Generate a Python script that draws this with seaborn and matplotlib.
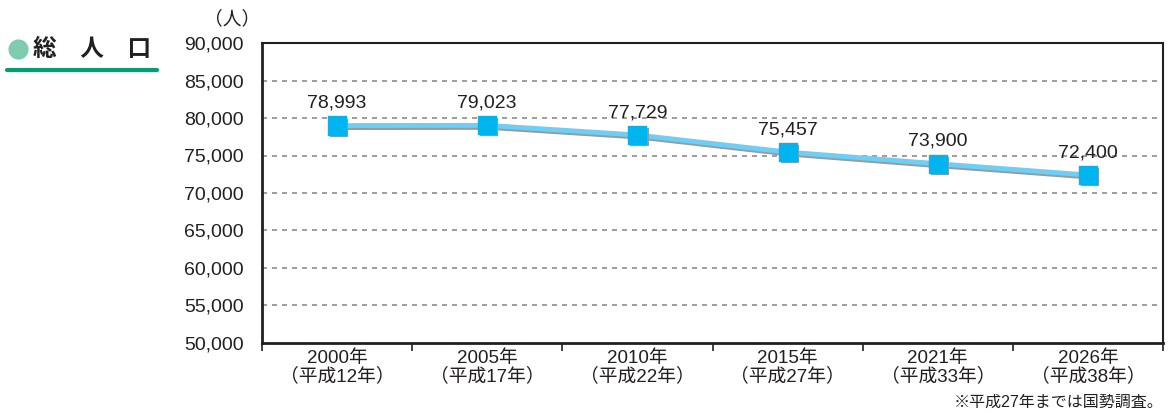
import matplotlib
matplotlib.use("Agg")
import matplotlib.pyplot as plt
import matplotlib.patheffects as pe
import seaborn as sns
import pandas as pd
import numpy as np

years = ["2000年\n（平成12年）", "2005年\n（平成17年）", "2010年\n（平成22年）",
         "2015年\n（平成27年）", "2021年\n（平成33年）", "2026年\n（平成38年）"]
population = [78993, 79023, 77729, 75457, 73900, 72400]
yticks = [50000, 55000, 60000, 65000, 70000, 75000, 80000, 85000, 90000]

sns.set_theme(style="white")
plt.rcParams['font.family'] = ['Liberation Sans', 'Noto Sans CJK JP', 'DejaVu Sans']

df = pd.DataFrame({"x": np.arange(len(years)), "pop": population})

fig = plt.figure(figsize=(11.69, 4.13), dpi=100)
ax = fig.add_axes([262/1169, 1-343/413, (1163-262)/1169, 300/413])

shadow = [pe.SimpleLineShadow(offset=(1.5, -1.5), shadow_color="#9a9a9a", alpha=1.0), pe.Normal()]
sns.lineplot(data=df, x="x", y="pop", ax=ax, color="#6dcff6", linewidth=3.5,
             path_effects=shadow, zorder=3)
ax.scatter(df["x"], df["pop"], marker="s", s=170, color="#00b4ef", zorder=4,
           path_effects=[pe.SimplePatchShadow(offset=(1.5, -1.5), shadow_rgbFace="#9a9a9a", alpha=1.0), pe.Normal()])

for xi, v in zip(df["x"], population):
    ax.annotate(f"{v:,}", (xi, v), xytext=(0, 10), textcoords="offset points",
                ha="center", va="bottom", fontsize=14, color="#231f20", zorder=5)

ax.set_xlim(-0.5, len(years) - 0.5)
ax.set_ylim(50000, 90000)
ax.set_yticks(yticks)
ax.set_yticklabels([f"{t:,}" for t in yticks], fontsize=14, color="#231f20")
ax.set_xticks(np.arange(len(years)))
ax.set_xticklabels(years, fontsize=13.5, color="#231f20", linespacing=1.0)
ax.set_xticks(np.arange(-0.5, len(years)), minor=True)
ax.tick_params(axis="x", which="major", length=0, pad=5)
ax.tick_params(axis="x", which="minor", length=6, width=1.2, color="#231f20", direction="out", bottom=True)
ax.tick_params(axis="y", length=0, pad=13)
ax.set_xlabel("")
ax.set_ylabel("")

for y in yticks[1:-1]:
    ax.axhline(y, color="#8c8c8c", linestyle=(0, (3, 3)), linewidth=1.2, zorder=1)

for s in ax.spines.values():
    s.set_color("#231f20")
    s.set_linewidth(1.5)
ax.spines["left"].set_linewidth(2)
ax.spines["bottom"].set_linewidth(2)

fig.text(232/1169, 1-19/413, "（人）", ha="center", va="center", fontsize=13.5, color="#231f20")
fig.add_artist(plt.Line2D([18/1169], [1-49/413], marker="o", markersize=14.5, color="#7fcbb0",
                          markeredgewidth=0, linestyle="none", transform=fig.transFigure))
fig.text(33/1169, 1-50/413, "総　人　口", ha="left", va="center", fontsize=17,
         color="#231f20", fontweight="bold")
fig.add_artist(plt.Line2D([7/1169, 157/1169], [1-70/413, 1-70/413], color="#00a070", linewidth=3,
                          transform=fig.transFigure))
fig.text(1164/1169, 1-402/413, "※平成27年までは国勢調査。", ha="right", va="center", fontsize=11.5,
         color="#231f20")

fig.savefig("out.png", dpi=100)
